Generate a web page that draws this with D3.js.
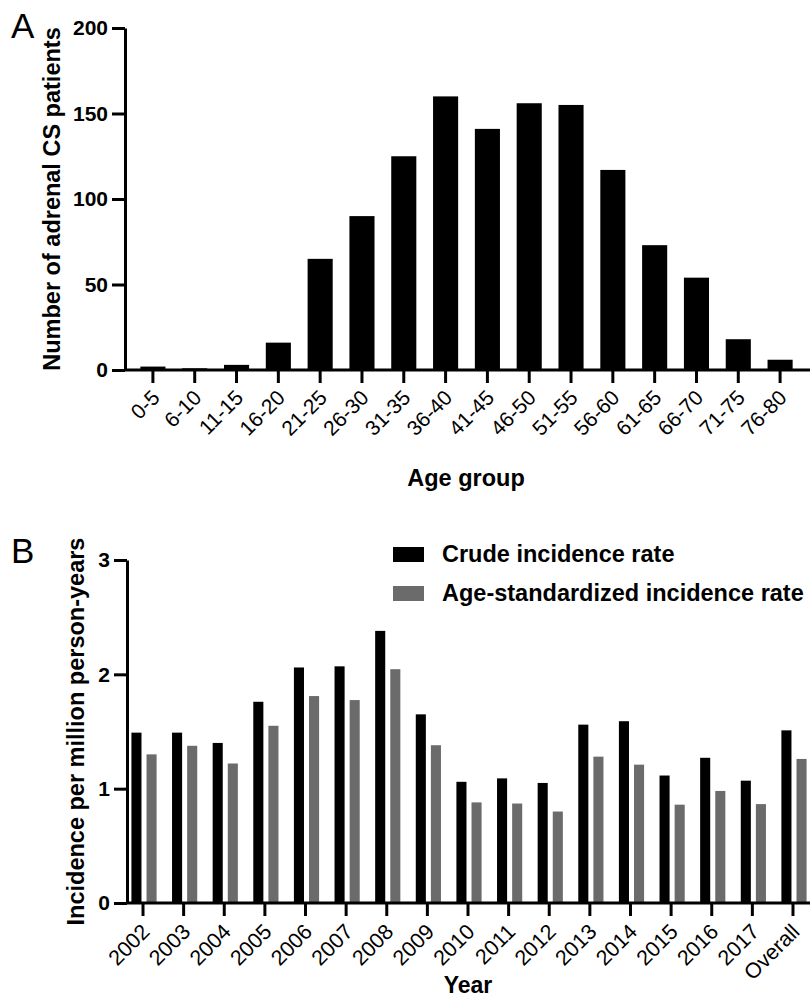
<!DOCTYPE html>
<html>
<head>
<meta charset="utf-8">
<script src="https://cdn.jsdelivr.net/npm/d3@7"></script>
<style>
  body { margin: 0; background: #fff; }
  svg, svg text { font-family: "Liberation Sans", Arial, sans-serif; }
</style>
</head>
<body>
<div id="chart"></div>
<script>
// panel A data
const ageGroups = ['0-5', '6-10', '11-15', '16-20', '21-25', '26-30', '31-35', '36-40',
  '41-45', '46-50', '51-55', '56-60', '61-65', '66-70', '71-75', '76-80'];
const patientCounts = [2, 1, 3, 16, 65, 90, 125, 160, 141, 156, 155, 117, 73, 54, 18, 6];
const countTicks = [0, 50, 100, 150, 200];

// panel B data
const years = ['2002', '2003', '2004', '2005', '2006', '2007', '2008', '2009', '2010',
  '2011', '2012', '2013', '2014', '2015', '2016', '2017', 'Overall'];
const crudeRate = [1.49, 1.49, 1.40, 1.76, 2.06, 2.07, 2.38, 1.65, 1.06,
  1.09, 1.05, 1.56, 1.59, 1.115, 1.27, 1.07, 1.51];
const ageStdRate = [1.30, 1.375, 1.22, 1.55, 1.81, 1.775, 2.045, 1.38, 0.88,
  0.87, 0.80, 1.28, 1.21, 0.86, 0.98, 0.865, 1.26];
const rateTicks = [0, 1, 2, 3];
const seriesNames = ['Crude incidence rate', 'Age-standardized incidence rate'];
const seriesColors = ['#000000', '#6b6b6b'];

const svg = d3.select('#chart')
  .append('svg')
  .attr('width', 810)
  .attr('height', 998);

function styleAxis(g) {
  g.attr('font-family', null);
  g.select('.domain').attr('stroke-width', 3).attr('stroke', '#000');
  g.selectAll('.tick line').attr('stroke-width', 3).attr('stroke', '#000');
}

///////////////////////////////PANEL A
const xA = d3.scaleBand()
  .domain(ageGroups)
  .range([132, 801])
  .paddingInner(0.4)
  .paddingOuter(0.2);

const yA = d3.scaleLinear()
  .domain([0, 200])
  .range([370, 28]);

svg.selectAll('.barA')
  .data(ageGroups)
  .enter()
  .append('rect')
  .attr('class', 'barA')
  .attr('x', d => xA(d))
  .attr('width', xA.bandwidth())
  .attr('y', (d, i) => yA(patientCounts[i]))
  .attr('height', (d, i) => yA(0) - yA(patientCounts[i]))
  .attr('fill', '#000');

const yAxisA = svg.append('g')
  .attr('transform', 'translate(125,0)')
  .call(d3.axisLeft(yA).tickValues(countTicks).tickFormat(d3.format('d'))
    .tickSize(13).tickSizeOuter(0).tickPadding(4));
styleAxis(yAxisA);
yAxisA.selectAll('text')
  .style('font-size', '21px')
  .style('font-weight', 'bold')
  .attr('fill', '#000');

const xAxisA = svg.append('g')
  .attr('transform', `translate(0,${yA(0)})`)
  .call(d3.axisBottom(xA).tickSize(13).tickSizeOuter(0));
xAxisA.select('.domain').remove();
styleAxis(xAxisA);
xAxisA.selectAll('text')
  .style('font-size', '21px')
  .attr('fill', '#000')
  .attr('text-anchor', 'end')
  .attr('dy', null)
  .attr('transform', 'translate(8,29) rotate(-45)')
  .attr('y', 0);

svg.append('line')
  .attr('x1', 125).attr('x2', 810)
  .attr('y1', yA(0)).attr('y2', yA(0))
  .attr('stroke', '#000').attr('stroke-width', 3);

svg.append('text')
  .attr('transform', `translate(60,${(yA(0) + yA(200)) / 2}) rotate(-90)`)
  .attr('text-anchor', 'middle')
  .style('font-size', '23.5px')
  .style('font-weight', 'bold')
  .text('Number of adrenal CS patients');

svg.append('text')
  .attr('x', 466).attr('y', 486)
  .attr('text-anchor', 'middle')
  .style('font-size', '23.5px')
  .style('font-weight', 'bold')
  .text('Age group');

svg.append('text')
  .attr('x', 11).attr('y', 38)
  .style('font-size', '35px')
  .text('A');

///////////////////////////////PANEL B
const xB = d3.scaleBand()
  .domain(years)
  .range([122.7, 813.3])
  .paddingInner(0.38)
  .paddingOuter(0.19);

const xSub = d3.scaleBand()
  .domain([0, 1])
  .range([0, xB.bandwidth()])
  .paddingInner(1 / 3);

const yB = d3.scaleLinear()
  .domain([0, 3])
  .range([903, 560]);

const groups = svg.selectAll('.yearGroup')
  .data(years)
  .enter()
  .append('g')
  .attr('class', 'yearGroup')
  .attr('transform', d => `translate(${xB(d) + 1},0)`);

groups.selectAll('rect')
  .data((d, i) => [crudeRate[i], ageStdRate[i]])
  .enter()
  .append('rect')
  .attr('x', (v, j) => xSub(j))
  .attr('width', xSub.bandwidth())
  .attr('y', v => yB(v))
  .attr('height', v => yB(0) - yB(v))
  .attr('fill', (v, j) => seriesColors[j]);

const yAxisB = svg.append('g')
  .attr('transform', 'translate(127,0)')
  .call(d3.axisLeft(yB).tickValues(rateTicks).tickFormat(d3.format('d'))
    .tickSize(13).tickSizeOuter(0).tickPadding(4));
styleAxis(yAxisB);
yAxisB.selectAll('text')
  .style('font-size', '21px')
  .style('font-weight', 'bold')
  .attr('fill', '#000');

const xAxisB = svg.append('g')
  .attr('transform', `translate(0,${yB(0)})`)
  .call(d3.axisBottom(xB).tickSize(13).tickSizeOuter(0));
xAxisB.select('.domain').remove();
styleAxis(xAxisB);
xAxisB.selectAll('text')
  .style('font-size', '21.5px')
  .attr('fill', '#000')
  .attr('text-anchor', 'end')
  .attr('dy', null)
  .attr('transform', 'translate(8,30) rotate(-45)')
  .attr('y', 0);

svg.append('line')
  .attr('x1', 127).attr('x2', 810)
  .attr('y1', yB(0)).attr('y2', yB(0))
  .attr('stroke', '#000').attr('stroke-width', 3);

svg.append('text')
  .attr('transform', `translate(84,${(yB(0) + yB(3)) / 2}) rotate(-90)`)
  .attr('text-anchor', 'middle')
  .style('font-size', '23.5px')
  .style('font-weight', 'bold')
  .text('Incidence per million person-years');

svg.append('text')
  .attr('x', 468).attr('y', 993)
  .attr('text-anchor', 'middle')
  .style('font-size', '23px')
  .style('font-weight', 'bold')
  .text('Year');

svg.append('text')
  .attr('x', 11).attr('y', 563)
  .style('font-size', '35px')
  .text('B');

///////////////////////////////LEGEND
const legend = svg.append('g')
  .attr('transform', 'translate(393,547)');

const legendItems = legend.selectAll('.legend-item')
  .data(seriesNames)
  .enter()
  .append('g')
  .attr('class', 'legend-item')
  .attr('transform', (d, i) => `translate(0,${i * 39})`);

legendItems.append('rect')
  .attr('width', 31)
  .attr('height', 15)
  .attr('fill', (d, i) => seriesColors[i]);

legendItems.append('text')
  .attr('x', 49)
  .attr('y', 15)
  .style('font-size', '23.5px')
  .style('font-weight', 'bold')
  .text(d => d);
</script>
</body>
</html>
